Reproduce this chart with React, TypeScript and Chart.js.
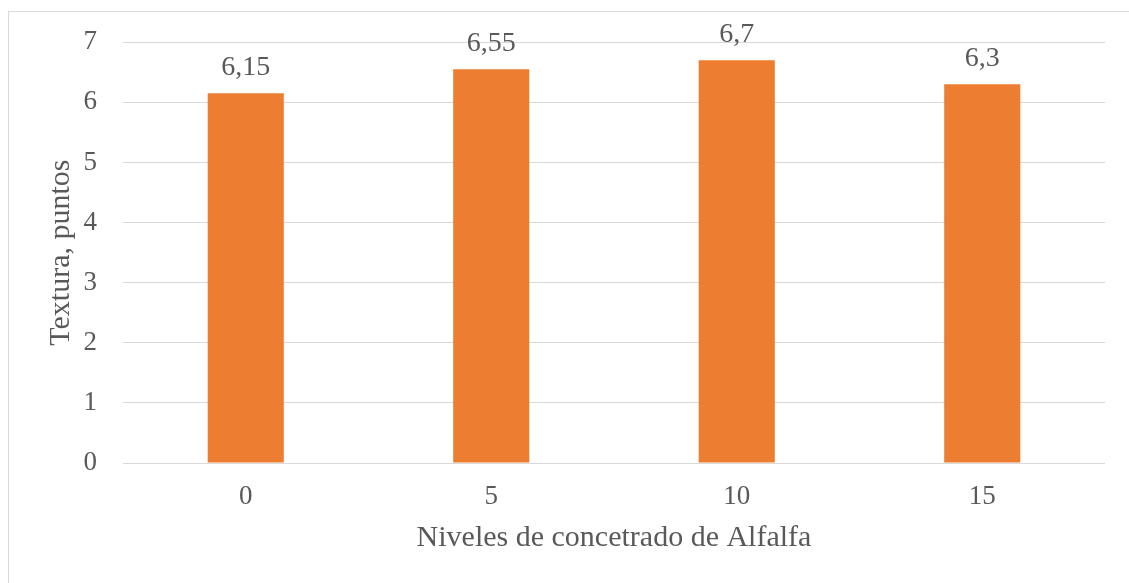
import React, { useEffect, useRef } from "react";
import { Chart, registerables } from "chart.js";

Chart.register(...registerables);

const categories = ["0", "5", "10", "15"];
const values = [6.15, 6.55, 6.7, 6.3];
const yTicks = [0, 1, 2, 3, 4, 5, 6, 7];
const xTitle = "Niveles de concetrado de Alfalfa";
const yTitle = "Textura, puntos";

const FONT = '"Liberation Serif", "Times New Roman", serif';
const TEXT = "#595959";
const GRID = "#d9d9d9";
const BAR = "#ED7D31";

const dataLabels = {
  id: "dataLabels",
  afterDatasetsDraw(chart: any) {
    const ctx = chart.ctx;
    const meta = chart.getDatasetMeta(0);
    ctx.save();
    ctx.font = `28px ${FONT}`;
    ctx.fillStyle = TEXT;
    ctx.textAlign = "center";
    ctx.textBaseline = "alphabetic";
    meta.data.forEach((el: any, i: number) => {
      const label = String(values[i]).replace(".", ",");
      ctx.fillText(label, el.x, el.y - 18);
    });
    ctx.restore();
  },
};

export default function App() {
  const ref = useRef<HTMLCanvasElement | null>(null);
  useEffect(() => {
    if (!ref.current) return;
    const chart = new Chart(ref.current, {
      type: "bar",
      data: {
        labels: categories,
        datasets: [
          {
            data: values,
            backgroundColor: BAR,
            borderWidth: 0,
            categoryPercentage: 1,
            barPercentage: 0.31,
          },
        ],
      },
      options: {
        responsive: false,
        animation: false,
        layout: { padding: { left: 43, right: 24, top: 42, bottom: 27 } },
        plugins: { legend: { display: false }, tooltip: { enabled: false } },
        scales: {
          x: {
            grid: { display: false, drawTicks: false },
            border: { display: false },
            ticks: {
              color: TEXT,
              padding: 18,
              font: { family: FONT, size: 27 },
            },
            title: {
              display: true,
              text: xTitle,
              color: TEXT,
              padding: 0,
              font: { family: FONT, size: 30 },
            },
            afterFit: (s: any) => {
              s.height = 93;
            },
          },
          y: {
            min: 0,
            max: 7,
            afterBuildTicks: (s: any) => {
              s.ticks = yTicks.map((v) => ({ value: v }));
            },
            grid: { color: GRID, lineWidth: 1, drawTicks: false },
            border: { display: false },
            ticks: {
              color: TEXT,
              padding: 26,
              font: { family: FONT, size: 27 },
            },
            title: {
              display: true,
              text: yTitle,
              color: TEXT,
              padding: 0,
              font: { family: FONT, size: 30 },
            },
            afterFit: (s: any) => {
              s.width = 80;
            },
          },
        },
      },
      plugins: [dataLabels],
    });
    return () => chart.destroy();
  }, []);

  return (
    <div>
      <div
        style={{
          position: "fixed",
          left: 8,
          top: 11,
          width: 1300,
          height: 800,
          border: `1px solid ${GRID}`,
          boxSizing: "border-box",
          background: "#fff",
        }}
      />
      <canvas
        ref={ref}
        width={1129}
        height={583}
        style={{ position: "fixed", left: 0, top: 0, width: 1129, height: 583 }}
      />
    </div>
  );
}
